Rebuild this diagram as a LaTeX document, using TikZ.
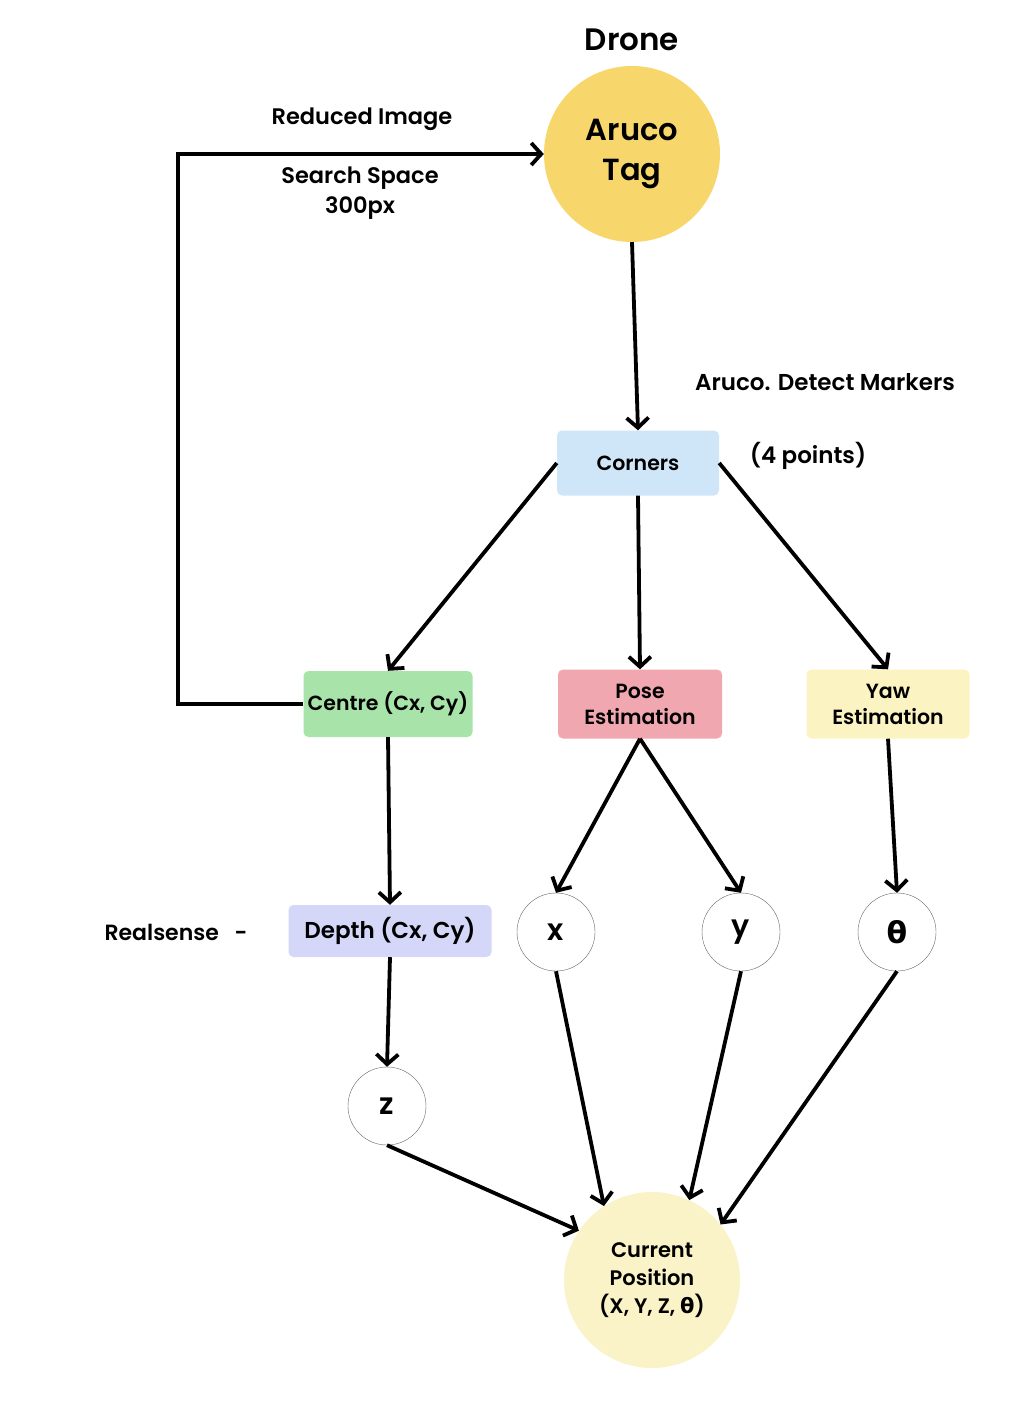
\documentclass[tikz,border=0pt]{standalone}
\usepackage{fontspec}
\setmainfont{Poppins}[BoldFont={Poppins SemiBold}]
\newfontfamily\greekfont{DejaVu Sans}
\usetikzlibrary{arrows.meta}
\definecolor{tagyellow}{HTML}{F7D66B}
\definecolor{cornerblue}{HTML}{CFE5F8}
\definecolor{centregreen}{HTML}{A8E4A9}
\definecolor{posepink}{HTML}{F1A7B0}
\definecolor{yawyellow}{HTML}{FBF3C2}
\definecolor{depthblue}{HTML}{D5D7F8}
\definecolor{curyellow}{HTML}{FAF3C7}
\begin{document}
\begin{tikzpicture}[x=1pt,y=-1pt,
    box/.style={rounded corners=5pt, minimum height=66pt, align=center, inner sep=2pt,
      font=\fontsize{20.5}{26}\selectfont\bfseries},
    var/.style={circle, draw=black!60, thin, minimum size=78pt, fill=white,
      font=\fontsize{30}{34}\selectfont\bfseries},
    big/.style={circle, minimum size=176pt, align=center},
    lbl/.style={font=\fontsize{22.5}{30}\selectfont\bfseries, align=center},
    flow/.style={line width=3.8pt, -{Straight Barb[length=10pt,width=22pt,line width=3.8pt]}}]
  \useasboundingbox (0,0) rectangle (1018,1404);
  \fill[white] (0,0) rectangle (1018,1404);
  % main nodes
  \node[lbl, font=\fontsize{31}{36}\selectfont\bfseries] (drone) at (632,40) {Drone};
  \node[big, fill=tagyellow, font=\fontsize{30.5}{40}\selectfont\bfseries] (tag) at (632,154) {Aruco\\Tag};
  \node[box, fill=cornerblue, minimum width=162pt, minimum height=65pt] (corners) at (638,463) {Corners};
  \node[box, fill=centregreen, minimum width=169pt] (centre) at (388,704) {Centre (Cx, Cy)};
  \node[box, fill=posepink, minimum width=164pt, minimum height=69pt] (pose) at (640,704) {Pose\\Estimation};
  \node[box, fill=yawyellow, minimum width=163pt, minimum height=69pt] (yaw) at (888,704) {Yaw\\Estimation};
  \node[box, fill=depthblue, minimum width=203pt, minimum height=52pt, font=\fontsize{23}{27}\selectfont\bfseries] (depth) at (390,931) {Depth (Cx, Cy)};
  \node[var] (x) at (556,932) {x};
  \node[var] (y) at (741,932) {y};
  \node[var] (theta) at (897,932) {\greekfont θ};
  \node[var] (z) at (387,1106) {z};
  \node[big, fill=curyellow, font=\fontsize{21}{28}\selectfont\bfseries] (cur) at (652,1280) {Current\\Position\\(X, Y, Z, {\greekfont θ})};
  % labels
  \node[lbl] (reduced) at (362,119) {Reduced Image};
  \node[lbl] (search) at (360,193) {Search Space\\300px};
  \node[lbl, font=\fontsize{23}{30}\selectfont\bfseries] (detect) at (825,382) {Aruco. Detect Markers};
  \node[lbl, font=\fontsize{23}{30}\selectfont\bfseries] (points) at (808,456) {(4 points)};
  \node[lbl, font=\fontsize{22}{30}\selectfont\bfseries] (realsense) at (176,932) {Realsense~~~-};
  % connectors
  \draw[flow] (centre.west) -- ++(-125,0) |- (tag.west);
  \draw[flow] (tag.south) -- (corners.north);
  \draw[flow] (corners.west) -- (centre.north);
  \draw[flow] (corners.south) -- (pose.north);
  \draw[flow] (corners.east) -- (yaw.north);
  \draw[flow] (centre.south) -- (depth.north);
  \draw[flow] (pose.south) -- (x.north);
  \draw[flow] (pose.south) -- (y.north);
  \draw[flow] (yaw.south) -- (theta.north);
  \draw[flow] (depth.south) -- (z.north);
  \draw[flow] (z.south) -- (cur.146);
  \draw[flow] (x.south) -- (cur.123);
  \draw[flow] (y.south) -- (cur.65);
  \draw[flow] (theta.south) -- (cur.39);
\end{tikzpicture}
\end{document}
